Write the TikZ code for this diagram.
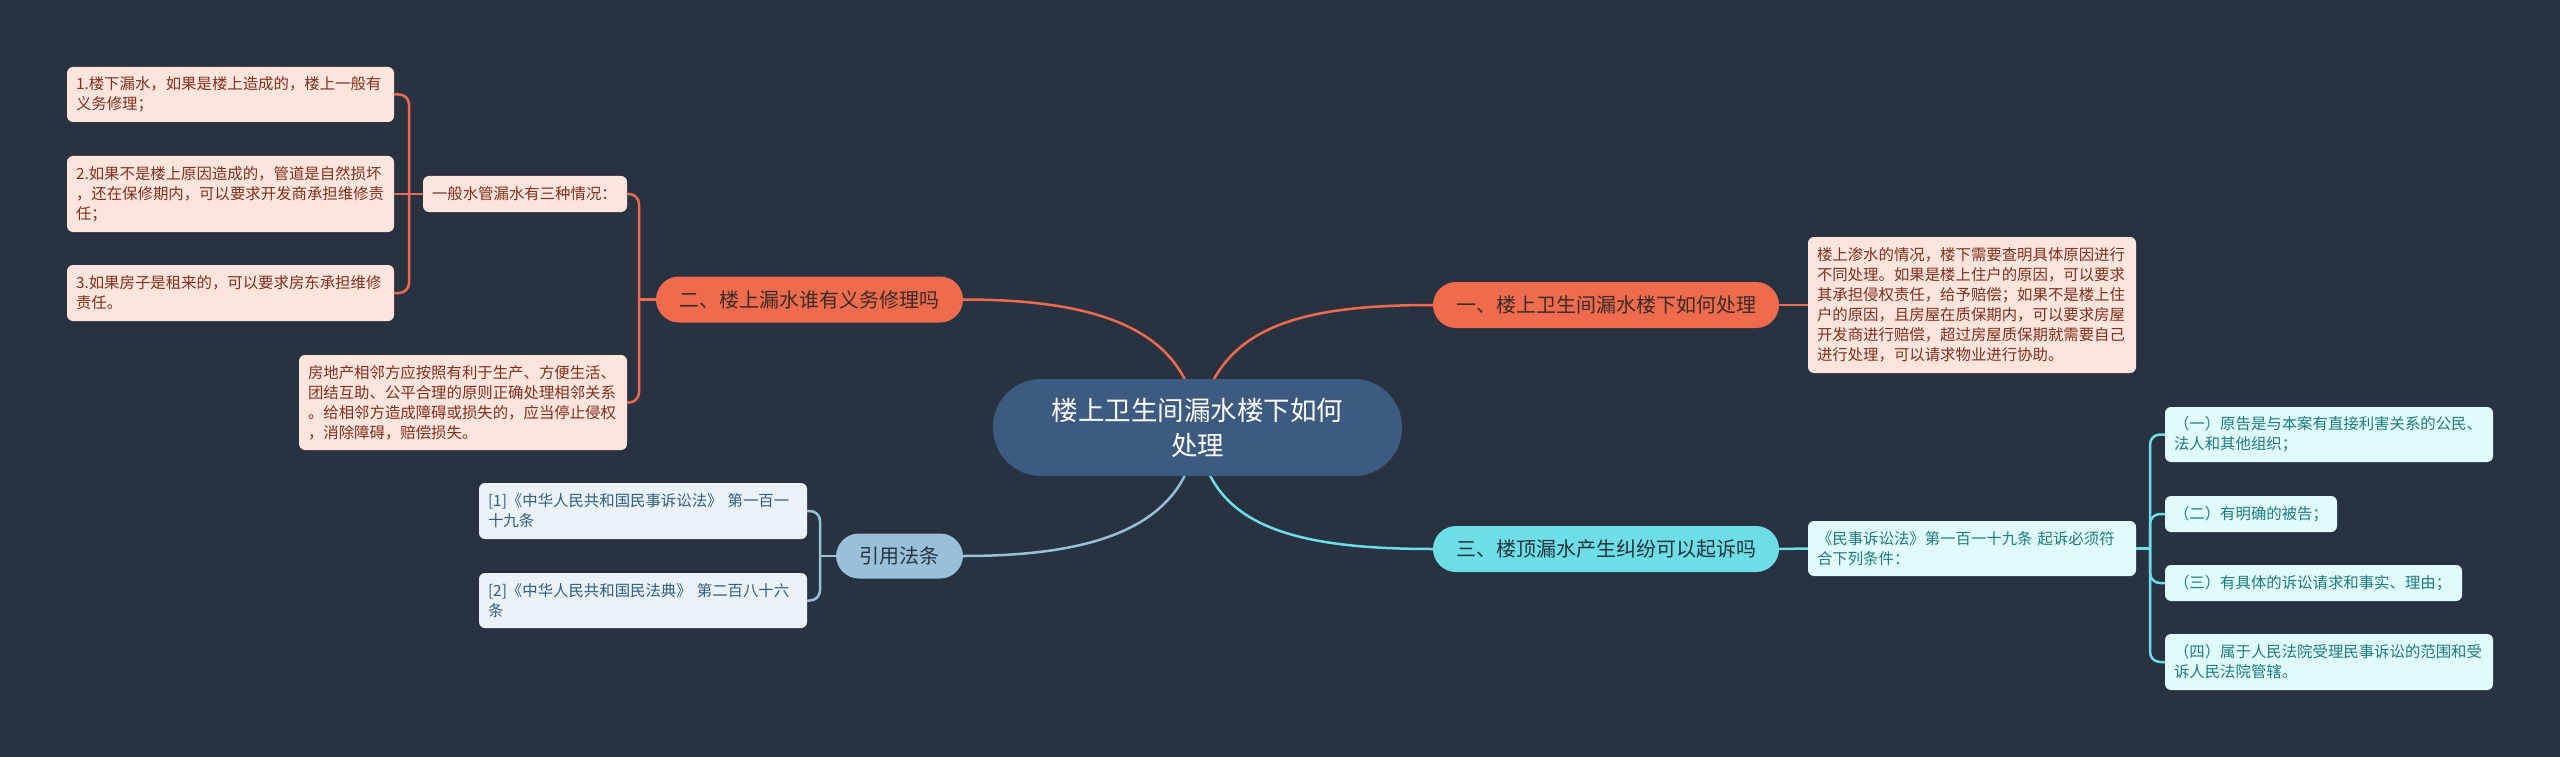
\documentclass[tikz,border=0pt]{standalone}
\usepackage{fontspec}
\setmainfont{Noto Sans CJK SC}
\usetikzlibrary{calc}
\definecolor{bg}{HTML}{293241}
\definecolor{ctrfill}{HTML}{3D5A80}
\definecolor{orng}{HTML}{EE6C4D}
\definecolor{pinkfill}{HTML}{FDE4DC}
\definecolor{pinktext}{HTML}{80301C}
\definecolor{cyanbr}{HTML}{6EDEE6}
\definecolor{cyanfill}{HTML}{E0FBFC}
\definecolor{cyantext}{HTML}{1F7A7E}
\definecolor{bluebr}{HTML}{98C1D9}
\definecolor{bluefill}{HTML}{EAF2F8}
\definecolor{bluetext}{HTML}{2E5E80}
\definecolor{brtext}{HTML}{3B2B28}
\definecolor{darktext}{HTML}{22323B}
\tikzset{
  leafbox/.style={rectangle, rounded corners=6pt, inner xsep=9pt, inner ysep=0pt, align=left,
    font=\fontsize{15.4pt}{20pt}\selectfont},
  pinkleaf/.style={leafbox, fill=pinkfill, text=pinktext},
  cyanleaf/.style={leafbox, fill=cyanfill, text=cyantext},
  blueleaf/.style={leafbox, fill=bluefill, text=bluetext},
  branchbox/.style={rectangle, rounded corners=23pt, inner sep=0pt, minimum height=46pt,
    font=\fontsize{20pt}{24pt}\selectfont},
  orngline/.style={draw=orng, line width=2.5pt},
  cyanline/.style={draw=cyanbr, line width=2.5pt},
  blueline/.style={draw=bluebr, line width=2.5pt},
  elbow/.style={rounded corners=10pt},
}
\begin{document}
\begin{tikzpicture}[x=1pt,y=-1pt]
\useasboundingbox (0,0) rectangle (2560,757);
\fill[bg] (0,0) rectangle (2560,757);

% ---- nodes (coordinates in pixel units, y downward)
\coordinate (ctrc) at (1197.5,427.5);
\coordinate (j2) at (639,299.5);
\coordinate (js) at (409,194);
\coordinate (jc) at (820,556);
\coordinate (jr) at (2150,548.5);

% connectors from centre (drawn first, under the nodes)
\draw[orngline] (ctrc) .. controls +(17.5,-97.5) and +(-143,0) .. (1433,305) coordinate (b1in);
\draw[orngline] (ctrc) .. controls +(-7.5,-97.5) and +(137,0) .. (963,299.5) coordinate (b2in);
\draw[cyanline] (ctrc) .. controls +(7.5,97.5) and +(-143,0) .. (1433,549) coordinate (b3in);
\draw[blueline] (ctrc) .. controls +(-7.5,97.5) and +(137,0) .. (963,556) coordinate (ctin);

\node[rectangle, rounded corners=48pt, fill=ctrfill, text=white, minimum width=409pt, minimum height=97pt,
  inner sep=0pt, align=center, font=\fontsize{26.5pt}{35pt}\selectfont] (ctr) at (ctrc)
  {楼上卫生间漏水楼下如何\\处理};

\node[branchbox, fill=orng, text=brtext, minimum width=346pt] (b1) at (1606,305) {一、楼上卫生间漏水楼下如何处理};
\node[branchbox, fill=orng, text=brtext, minimum width=307pt] (b2) at (809.5,299.5) {二、楼上漏水谁有义务修理吗};
\node[branchbox, fill=cyanbr, text=darktext, minimum width=346pt] (b3) at (1606,549) {三、楼顶漏水产生纠纷可以起诉吗};
\node[branchbox, fill=bluebr, text=bg, minimum width=127pt, minimum height=45pt] (ct) at (899.5,556) {引用法条};

% right of branch 1
\node[pinkleaf, text width=310pt, minimum height=136pt] (r1) at (1972,305)
  {楼上渗水的情况，楼下需要查明具体原因进行\\不同处理。如果是楼上住户的原因，可以要求\\其承担侵权责任，给予赔偿；如果不是楼上住\\户的原因，且房屋在质保期内，可以要求房屋\\开发商进行赔偿，超过房屋质保期就需要自己\\进行处理，可以请求物业进行协助。};

% branch 2 children
\node[pinkleaf, text width=186pt, minimum height=36pt] (s2) at (525,194) {一般水管漏水有三种情况：};
\node[pinkleaf, text width=310pt, minimum height=95pt] (l4) at (463,402.5)
  {房地产相邻方应按照有利于生产、方便生活、\\团结互助、公平合理的原则正确处理相邻关系\\。给相邻方造成障碍或损失的，应当停止侵权\\，消除障碍，赔偿损失。};
\node[pinkleaf, text width=309pt, minimum height=55pt] (l1) at (230.5,94.5)
  {1.楼下漏水，如果是楼上造成的，楼上一般有\\义务修理；};
\node[pinkleaf, text width=309pt, minimum height=76pt] (l2) at (230.5,194)
  {2.如果不是楼上原因造成的，管道是自然损坏\\，还在保修期内，可以要求开发商承担维修责\\任；};
\node[pinkleaf, text width=309pt, minimum height=56pt] (l3) at (230.5,293)
  {3.如果房子是租来的，可以要求房东承担维修\\责任。};

% citations
\node[blueleaf, text width=310pt, minimum height=56pt] (c1) at (643,511)
  {[1]《中华人民共和国民事诉讼法》 第一百一\\十九条};
\node[blueleaf, text width=310pt, minimum height=55pt] (c2) at (643,600.5)
  {[2]《中华人民共和国民法典》 第二百八十六\\条};

% branch 3 children
\node[cyanleaf, text width=310pt, minimum height=55pt] (s3) at (1972,548.5)
  {《民事诉讼法》第一百一十九条 起诉必须符\\合下列条件：};
\node[cyanleaf, text width=310pt, minimum height=55pt] (q1) at (2329,434.5)
  {（一）原告是与本案有直接利害关系的公民、\\法人和其他组织；};
\node[cyanleaf, text width=154pt, minimum height=36pt] (q2) at (2251,514) {（二）有明确的被告；};
\node[cyanleaf, text width=279pt, minimum height=36pt] (q3) at (2313.5,583) {（三）有具体的诉讼请求和事实、理由；};
\node[cyanleaf, text width=310pt, minimum height=56pt] (q4) at (2329,662)
  {（四）属于人民法院受理民事诉讼的范围和受\\诉人民法院管辖。};

% ---- connectors between nodes
\draw[orngline] (b1.east) -- (r1.west);
\draw[cyanline] (b3.east) -- (s3.west);

\draw[orngline] (b2.west) -- (j2);
\draw[orngline, elbow] (j2) |- (s2.east);
\draw[orngline, elbow] (j2) |- (l4.east);

\draw[orngline] (s2.west) -- (js);
\draw[orngline, elbow] (js) |- (l1.east);
\draw[orngline] (js) -- (l2.east);
\draw[orngline, elbow] (js) |- (l3.east);

\draw[blueline] (ct.west) -- (jc);
\draw[blueline, elbow] (jc) |- (c1.east);
\draw[blueline, elbow] (jc) |- (c2.east);

\draw[cyanline] (s3.east) -- (jr);
\draw[cyanline, elbow] (jr) |- (q1.west);
\draw[cyanline, elbow] (jr) |- (q2.west);
\draw[cyanline, elbow] (jr) |- (q3.west);
\draw[cyanline, elbow] (jr) |- (q4.west);
\end{tikzpicture}
\end{document}
